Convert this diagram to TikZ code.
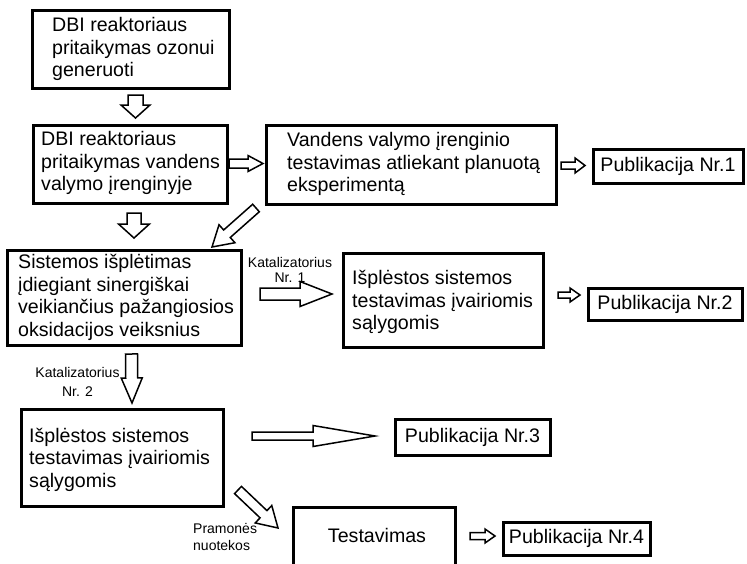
\documentclass[tikz,border=0pt]{standalone}
\usepackage{fontspec}
\setmainfont{Liberation Sans}
\usetikzlibrary{calc}
\tikzset{
  box/.style={draw=black, line width=3pt, fill=white, inner sep=0pt},
  pubbox/.style={draw=black, line width=3pt, inner sep=0pt, font=\fontsize{19.6}{22.5}\selectfont},
  txt/.style={font=\fontsize{19.6}{22.5}\selectfont, align=left, inner sep=0pt, anchor=west},
  small/.style={font=\fontsize{14}{15}\selectfont, inner sep=0pt},
  barrow/.style={draw=black, line width=1.5pt, fill=white, line join=miter},
}
\newcommand\mybarrow[6]{%
  \coordinate (#1b) at ($(#3)!#6!(#2)$);
  \draw[barrow] ($(#2)!#4!90:(#3)$) -- ($(#1b)!#4!90:(#3)$) -- ($(#1b)!#5!90:(#3)$) -- (#3)
    -- ($(#1b)!#5!-90:(#3)$) -- ($(#1b)!#4!-90:(#3)$) -- ($(#2)!#4!-90:(#3)$) -- cycle;
}
\begin{document}
\begin{tikzpicture}[x=1pt,y=1pt]
\clip (0,0) rectangle (747,-563);
\fill[white] (0,0) rectangle (747,-563);

% boxes
\node[box, minimum width=197pt, minimum height=78pt] (b1) at (130.5,-49) {};
\node[txt] (t1) at (52,-49) {DBI reaktoriaus\\pritaikymas ozonui\\generuoti};

\node[box, minimum width=194pt, minimum height=78pt] (b2) at (130,-164) {};
\node[txt] (t2) at (41,-163) {DBI reaktoriaus\\pritaikymas vandens\\valymo įrenginyje};

\node[box, minimum width=290pt, minimum height=79pt] (bV) at (411,-164.5) {};
\node[txt] (tV) at (287,-164) {Vandens valymo įrenginio\\testavimas atliekant planuotą\\eksperimentą};

\node[pubbox, minimum width=150pt, minimum height=34pt] (p1) at (668,-166) {Publikacija Nr.1};

\node[box, minimum width=234pt, minimum height=95pt] (bS) at (124,-297.5) {};
\node[txt] (tS) at (18,-297.5) {Sistemos išplėtimas\\įdiegiant sinergiškai\\veikiančius pažangiosios\\oksidacijos veiksnius};

\node[box, minimum width=200pt, minimum height=94pt] (bI1) at (443,-300) {};
\node[txt] (tI1) at (352,-302) {Išplėstos sistemos\\testavimas įvairiomis\\sąlygomis};

\node[pubbox, minimum width=154pt, minimum height=32pt] (p2) at (665,-304) {Publikacija Nr.2};

\node[box, minimum width=202pt, minimum height=97pt] (bI2) at (122,-457.5) {};
\node[txt] (tI2) at (29,-459.5) {Išplėstos sistemos\\testavimas įvairiomis\\sąlygomis};

\node[pubbox, minimum width=155pt, minimum height=36pt] (p3) at (472.5,-437) {Publikacija Nr.3};

\node[box, minimum width=162pt, minimum height=90pt] (bT) at (374,-552) {};
\node[txt, anchor=center] (tT) at (377,-535) {Testavimas};

\node[pubbox, minimum width=147pt, minimum height=33pt] (p4) at (576.5,-538.5) {Publikacija Nr.4};

% labels
\node[small, align=center] (k1) at (290,-269.5) {Katalizatorius\\Nr. 1};
\node[small, align=center, font=\fontsize{14}{19}\selectfont] (k2) at (77.5,-381.5) {Katalizatorius\\Nr. 2};
\node[small, align=left, anchor=west, font=\fontsize{14}{17}\selectfont] (pn) at (193,-536.5) {Pramonės\\nuotekos};

% block arrows
\coordinate (a1s) at (135.5,-95);   \coordinate (a1e) at (135.5,-118);
\mybarrow{a1}{a1s}{a1e}{7.5pt}{14.5pt}{13pt}
\coordinate (a2s) at (229,-163.5);  \coordinate (a2e) at (263,-163.5);
\mybarrow{a2}{a2s}{a2e}{4.5pt}{8pt}{15pt}
\coordinate (a3s) at (134,-213);    \coordinate (a3e) at (134,-238);
\mybarrow{a3}{a3s}{a3e}{7pt}{15.5pt}{14pt}
\coordinate (a4s) at (256,-208);    \coordinate (a4e) at (212,-247);
\mybarrow{a4}{a4s}{a4e}{5pt}{12pt}{20pt}
\coordinate (a5s) at (260,-294);    \coordinate (a5e) at (332,-294);
\mybarrow{a5}{a5s}{a5e}{6pt}{12.5pt}{32pt}
\coordinate (a6s) at (561,-165.5);  \coordinate (a6e) at (585,-165.5);
\mybarrow{a6}{a6s}{a6e}{3.5pt}{7.5pt}{10pt}
\coordinate (a7s) at (558,-295);    \coordinate (a7e) at (580,-295);
\mybarrow{a7}{a7s}{a7e}{3pt}{7pt}{10pt}
\coordinate (a8s) at (131.5,-354);  \coordinate (a8e) at (132,-403);
\mybarrow{a8}{a8s}{a8e}{6pt}{10.5pt}{25pt}
\coordinate (a9s) at (252,-436);    \coordinate (a9e) at (375,-436);
\mybarrow{a9}{a9s}{a9e}{4pt}{10.5pt}{62pt}
\coordinate (a10s) at (238,-490);   \coordinate (a10e) at (278,-528);
\mybarrow{a10}{a10s}{a10e}{5pt}{12pt}{20pt}
\coordinate (a11s) at (470,-536);   \coordinate (a11e) at (495,-536);
\mybarrow{a11}{a11s}{a11e}{3.5pt}{7pt}{10pt}
\end{tikzpicture}
\end{document}
